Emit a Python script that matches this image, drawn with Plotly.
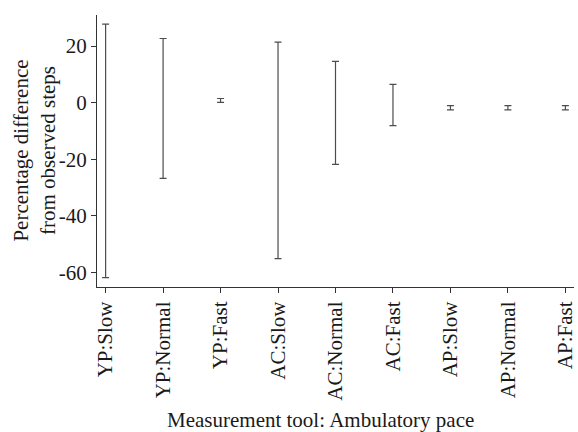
import plotly.graph_objects as go

categories = ["YP:Slow", "YP:Normal", "YP:Fast", "AC:Slow", "AC:Normal",
              "AC:Fast", "AP:Slow", "AP:Normal", "AP:Fast"]
upper = [27.8, 22.7, 1.5, 21.4, 14.6, 6.5, -1.0, -1.0, -1.0]
lower = [-61.8, -26.7, 0.1, -55.1, -21.8, -8.1, -2.5, -2.5, -2.5]
y_ticks = [-60, -40, -20, 0, 20]
y_tick_labels = ["-60", "-40", "-20", "0", "20"]

mid = [(u + l) / 2 for u, l in zip(upper, lower)]
plus = [u - m for u, m in zip(upper, mid)]
minus = [m - l for l, m in zip(lower, mid)]

FONT = "Liberation Serif"
FS = 21
TXT = "#1a1a1a"
fig = go.Figure()
fig.add_trace(go.Scatter(
    x=list(range(len(categories))), y=mid, mode="markers",
    marker=dict(size=1, opacity=0),
    error_y=dict(type="data", symmetric=False, array=plus, arrayminus=minus,
                 color="#4d4d4d", thickness=1.2, width=3.5),
    showlegend=False, hoverinfo="skip"))

fig.update_layout(
    width=578, height=432,
    margin=dict(l=97, r=1, t=15, b=145),
    paper_bgcolor="white", plot_bgcolor="white",
    font=dict(family=FONT, size=FS, color=TXT),
    xaxis=dict(range=[-0.15, 8.15], tickmode="array",
               tickvals=list(range(len(categories))), ticktext=categories,
               tickangle=-90, ticklabeloverflow="allow",
               showline=True, linecolor="#333333", linewidth=1.2,
               ticks="outside", ticklen=5, tickcolor="#333333", showgrid=False,
               zeroline=False, tickfont=dict(family=FONT, size=FS, color=TXT)),
    yaxis=dict(range=[-65.1, 31], tickmode="array", tickvals=y_ticks,
               ticktext=y_tick_labels,
               showline=True, linecolor="#333333", linewidth=1.2,
               ticks="outside", ticklen=5, tickcolor="#333333", showgrid=False,
               zeroline=False, tickfont=dict(family=FONT, size=FS, color=TXT)),
    annotations=[
        dict(text="Measurement tool: Ambulatory pace", xref="paper", yref="paper",
             x=0.469, y=-0.49, xanchor="center", yanchor="middle",
             showarrow=False, font=dict(family=FONT, size=FS, color=TXT)),
        dict(text="Percentage difference<br>from observed steps", xref="paper", yref="paper",
             x=-0.133, y=0.5, xanchor="center", yanchor="middle", textangle=-90,
             showarrow=False, font=dict(family=FONT, size=FS, color=TXT)),
    ],
)
fig.write_html("out.html", config={"displayModeBar": False},
               post_script="document.body.style.margin='0';document.body.style.overflow='hidden';")
